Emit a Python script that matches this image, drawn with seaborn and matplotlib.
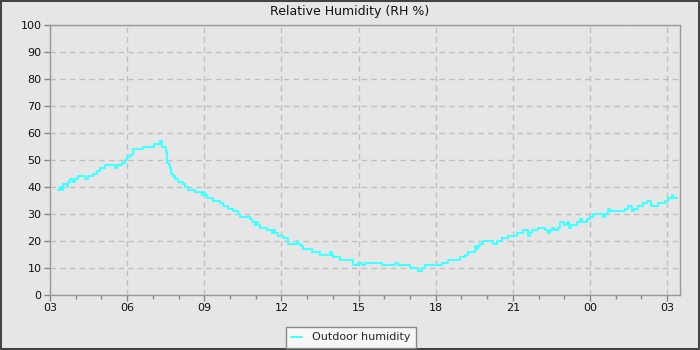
import matplotlib
matplotlib.use("Agg")
import matplotlib.pyplot as plt
from matplotlib.ticker import MultipleLocator, FuncFormatter
from matplotlib.patches import Rectangle
import seaborn as sns
import pandas as pd

# Outdoor relative humidity, hours since midnight of the first day
hours = [3.32, 3.39, 3.45, 3.52, 3.65, 3.70, 3.78, 3.90, 3.97, 4.10, 4.36, 4.49,
         4.68, 4.82, 4.94, 5.14, 5.53, 5.59, 5.72, 5.80, 5.90, 5.98, 6.11, 6.24,
         6.50, 6.63, 7.00, 7.05, 7.20, 7.28, 7.34, 7.47, 7.51, 7.54, 7.56, 7.63,
         7.67, 7.72, 7.77, 7.86, 7.98, 8.18, 8.25, 8.38, 8.64, 8.90, 8.93, 8.98,
         9.03, 9.09, 9.35, 9.61, 9.74, 9.93, 10.13, 10.32, 10.40, 10.78, 10.84,
         10.97, 11.05, 11.10, 11.16, 11.43, 11.62, 11.68, 11.75, 11.88, 12.07,
         12.27, 12.59, 12.65, 12.75, 12.85, 13.17, 13.50, 13.90, 13.95, 14.01,
         14.28, 14.79, 14.99, 15.12, 15.25, 15.90, 16.41, 16.54, 17.00, 17.19,
         17.32, 17.45, 17.58, 18.23, 18.49, 18.94, 19.13, 19.26, 19.52, 19.58,
         19.65, 19.72, 19.85, 20.24, 20.37, 20.56, 20.82, 21.15, 21.40, 21.60,
         21.65, 21.73, 21.99, 22.25, 22.37, 22.45, 22.51, 22.60, 22.76, 22.83,
         23.00, 23.09, 23.19, 23.28, 23.48, 23.61, 23.70, 23.87, 24.00, 24.13,
         24.40, 24.50, 24.58, 24.71, 24.77, 25.23, 25.36, 25.48, 25.62, 25.70,
         25.87, 26.07, 26.20, 26.39, 26.65, 26.91, 27.04, 27.17, 27.23, 27.37]
humidity = [39, 40, 39, 41, 40, 42, 43, 42, 43, 44, 43, 44,
            45, 46, 47, 48, 47, 48, 48, 49, 50, 51, 52, 54,
            54, 55, 55, 56, 56, 57, 55, 55, 53, 51, 49, 48,
            47, 45, 44, 43, 42, 41, 40, 39, 38, 38, 37, 38,
            37, 36, 35, 34, 33, 32, 31, 30, 29, 28, 27,
            26, 27, 26, 25, 24, 23, 24, 23, 22, 21,
            19, 20, 19, 18, 17, 16, 15, 16, 15, 14,
            13, 11, 12, 11, 12, 11, 12, 11, 10, 10,
            9, 10, 11, 12, 13, 14, 15, 16, 18, 17,
            18, 19, 20, 19, 20, 21, 22, 23, 24, 22,
            23, 24, 25, 24, 23, 24, 25, 24, 25, 27,
            26, 27, 25, 26, 27, 28, 27, 28, 29, 30,
            30, 29, 30, 32, 31, 31, 32, 33, 31, 32,
            33, 34, 35, 33, 34, 35, 36, 37, 36, 36]

df = pd.DataFrame({"hour": hours, "humidity": humidity})

bg = "#e6e6e6"
sns.set_theme(style="ticks")
plt.rcParams["font.family"] = ["DejaVu Sans"]

fig = plt.figure(figsize=(7, 3.5), dpi=100, facecolor=bg)
ax = fig.add_axes([50 / 700, 55 / 350, 630 / 700, 270 / 350])
ax.set_facecolor(bg)

sns.lineplot(data=df, x="hour", y="humidity", ax=ax, color="#44ffff",
             linewidth=1.5, drawstyle="steps-post", estimator=None,
             label="Outdoor humidity", legend=False)

ax.set_xlim(3, 27.5)
ax.set_ylim(0, 100)
ax.xaxis.set_major_locator(MultipleLocator(3))
ax.xaxis.set_minor_locator(MultipleLocator(1))
ax.yaxis.set_major_locator(MultipleLocator(10))
ax.xaxis.set_major_formatter(FuncFormatter(lambda v, p: f"{int(round(v)) % 24:02d}"))

ax.grid(True, which="major", linestyle=(0, (4, 3)), color="#c0c0c0", linewidth=1)
ax.set_axisbelow(True)
ax.set_xlabel("")
ax.set_ylabel("")

for s in ax.spines.values():
    s.set_color("#999999")
    s.set_linewidth(1)
ax.tick_params(which="major", direction="out", length=4, width=1, color="#888888",
               labelsize=8, labelcolor="#111111", pad=2)
ax.tick_params(which="minor", direction="out", length=3, width=1, color="#888888")

fig.text(350 / 700, 1 - 12 / 350, "Relative Humidity (RH %)", ha="center",
         va="center", fontsize=9, color="#111111")

handles, labels = ax.get_legend_handles_labels()
leg = fig.legend(handles, labels, loc="lower center",
                 bbox_to_anchor=(351 / 700, 2 / 350), borderaxespad=0,
                 fontsize=8, frameon=True, fancybox=False, handlelength=1.0,
                 handletextpad=0.9, borderpad=0.5)
leg.get_frame().set_facecolor("#f7f7f7")
leg.get_frame().set_edgecolor("#888888")
leg.get_frame().set_linewidth(1)
leg.get_frame().set_alpha(1)

fig.add_artist(Rectangle((0, 0), 1, 1, transform=fig.transFigure, fill=False,
                         edgecolor="#444444", linewidth=2.9, clip_on=False))

fig.savefig("out.png", dpi=100, facecolor=bg)
